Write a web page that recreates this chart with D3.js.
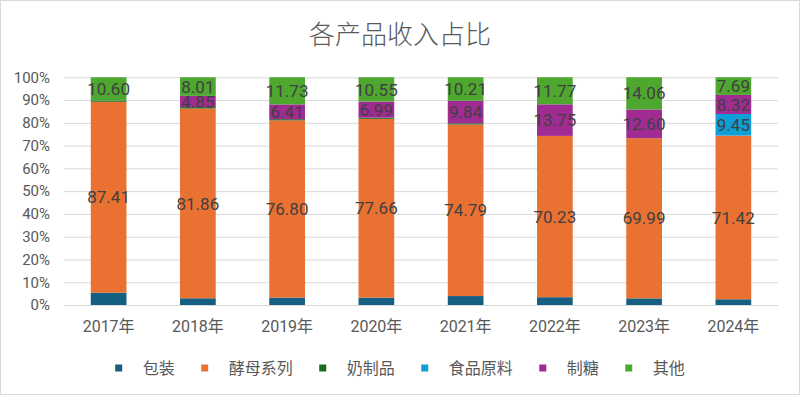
<!DOCTYPE html>
<html>
<head>
<meta charset="utf-8">
<script src="https://cdn.jsdelivr.net/npm/d3@7"></script>
<style>
body { margin: 0; background: #fff; }
</style>
</head>
<body>
<div class="chart"></div>
<script>

const years = ['2017年', '2018年', '2019年', '2020年', '2021年', '2022年', '2023年', '2024年'];

const packing = [5.6, 2.9, 3.2, 3.2, 3.9, 3.4, 2.9, 2.5];
const yeast = [87.41, 81.86, 76.80, 77.66, 74.79, 70.23, 69.99, 71.42];
const dairy = [0.6, 0.6, 0.5, 0.5, 0.5, 0, 0, 0];
const foodMaterial = [0, 0, 0, 0, 0, 0, 0, 9.45];
const sugar = [0, 4.85, 6.41, 6.99, 9.84, 13.75, 12.60, 8.32];
const other = [10.60, 8.01, 11.73, 10.55, 10.21, 11.77, 14.06, 7.69];

const seriesNames = ['包装', '酵母系列', '奶制品', '食品原料', '制糖', '其他'];
const seriesColors = ['#156082', '#e97132', '#196b24', '#0f9ed5', '#a02b93', '#4ea72e'];
const labelled = [false, true, false, true, true, true];
const yTicks = [0, 0.1, 0.2, 0.3, 0.4, 0.5, 0.6, 0.7, 0.8, 0.9, 1];

const width = 800;
const height = 395;

const rows = years.map(function(y, i) {
	return {
		year: y,
		'包装': packing[i],
		'酵母系列': yeast[i],
		'奶制品': dairy[i],
		'食品原料': foodMaterial[i],
		'制糖': sugar[i],
		'其他': other[i]
	};
});

const stacked = d3.stack()
	.keys(seriesNames)
	.offset(d3.stackOffsetExpand)(rows);

const svg = d3.select('.chart').append('svg')
	.attr('width', width)
	.attr('height', height);

svg.append('rect')
	.attr('x', 0.5)
	.attr('y', 0.5)
	.attr('width', width - 1)
	.attr('height', height - 1)
	.attr('fill', '#fff')
	.attr('stroke', '#d9d9d9');

svg.append('text')
	.text('各产品收入占比')
	.attr('x', 400)
	.attr('y', 44)
	.attr('text-anchor', 'middle')
	.attr('font-family', "'Noto Sans CJK SC', sans-serif")
	.attr('font-weight', 300)
	.attr('font-size', 26)
	.attr('fill', '#595959');

const x = d3.scaleBand()
	.domain(years)
	.range([64, 778])
	.paddingInner(0.6)
	.paddingOuter(0.3);

const y = d3.scaleLinear()
	.domain([0, 1])
	.range([305, 77.3]);

// gridlines + y labels
const yAxis = d3.axisLeft(y)
	.tickValues(yTicks)
	.tickFormat(d3.format('.0%'))
	.tickSize(-(778 - 64))
	.tickPadding(14);

const yg = svg.append('g')
	.attr('transform', 'translate(64,0)')
	.call(yAxis);
yg.select('.domain').remove();
yg.selectAll('line')
	.attr('stroke', '#d9d9d9')
	.attr('stroke-width', 1);
yg.selectAll('text')
	.attr('font-family', 'Roboto, sans-serif')
	.attr('font-size', 15)
	.attr('fill', '#595959');

// bars
const layers = svg.selectAll('.layer')
	.data(stacked)
	.enter()
	.append('g')
	.attr('class', 'layer')
	.attr('fill', function(d, i) {
		return seriesColors[i];
	});

layers.selectAll('rect')
	.data(function(d) { return d; })
	.enter()
	.append('rect')
	.attr('x', function(d) {
		return x(d.data.year);
	})
	.attr('y', function(d) {
		return y(d[1]);
	})
	.attr('width', x.bandwidth())
	.attr('height', function(d) {
		return y(d[0]) - y(d[1]);
	});

// data labels
stacked.forEach(function(s, i) {
	if (!labelled[i]) return;
	svg.selectAll('.lbl' + i)
		.data(s.filter(function(d) { return d.data[s.key] > 0; }))
		.enter()
		.append('text')
		.text(function(d) {
			return d.data[s.key].toFixed(2);
		})
		.attr('x', function(d) {
			return x(d.data.year) + x.bandwidth() / 2;
		})
		.attr('y', function(d) {
			return (y(d[0]) + y(d[1])) / 2;
		})
		.attr('dy', '0.36em')
		.attr('text-anchor', 'middle')
		.attr('font-family', 'Roboto, sans-serif')
		.attr('font-size', 17)
		.attr('fill', '#404040')
		.attr('class', 'lbl' + i);
});

// x axis
const xAxis = d3.axisBottom(x).tickSize(0).tickPadding(16);
const xg = svg.append('g')
	.attr('transform', 'translate(0,305)')
	.call(xAxis);
xg.select('.domain')
	.attr('stroke', '#d9d9d9');
xg.selectAll('text')
	.attr('font-family', "Roboto, 'Noto Sans CJK SC', sans-serif")
	.attr('font-size', 16)
	.attr('fill', '#595959');

// legend
const legend = svg.append('g');
const itemGap = 30;
let lx = 0;
seriesNames.forEach(function(name, i) {
	const g = legend.append('g').attr('transform', `translate(${lx},0)`);
	g.append('rect')
		.attr('x', -3.5)
		.attr('y', -3.5)
		.attr('width', 7)
		.attr('height', 7)
		.attr('fill', seriesColors[i]);
	const t = g.append('text')
		.text(name)
		.attr('x', 24)
		.attr('dy', '0.35em')
		.attr('font-family', "'Noto Sans CJK SC', sans-serif")
		.attr('font-size', 16)
		.attr('fill', '#595959');
	lx += 24 + t.node().getComputedTextLength() + itemGap;
});
const legendW = lx - itemGap + 3.5;
legend.attr('transform', `translate(${400 - legendW / 2 + 3.5},368)`);

</script>
</body>
</html>
